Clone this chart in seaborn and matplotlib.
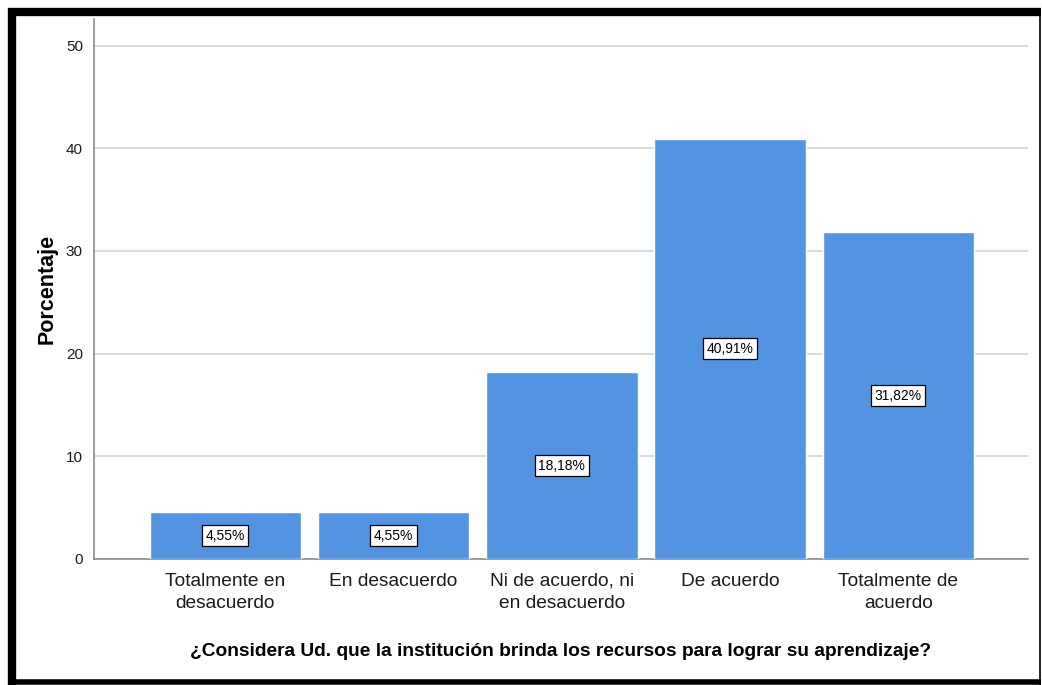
import pandas as pd
import seaborn as sns
import matplotlib.pyplot as plt
from matplotlib.lines import Line2D

categorias = ["Totalmente en\ndesacuerdo", "En desacuerdo", "Ni de acuerdo, ni\nen desacuerdo",
              "De acuerdo", "Totalmente de\nacuerdo"]
porcentajes = [4.55, 4.55, 18.18, 40.91, 31.82]
etiquetas = ["4,55%", "4,55%", "18,18%", "40,91%", "31,82%"]

df = pd.DataFrame({"cat": categorias, "pct": porcentajes})

sns.set_style("white")
plt.rcParams['font.family'] = ['Liberation Sans', 'DejaVu Sans']

fig = plt.figure(figsize=(10.42, 6.85), dpi=100)
ax = fig.add_axes([0.0902, 0.184, 0.8964, 0.7883])

sns.barplot(data=df, x="cat", y="pct", color="#5294e2", saturation=1, width=0.9, ax=ax, zorder=3)

for i, (v, t) in enumerate(zip(porcentajes, etiquetas)):
    ax.text(i, v / 2, t, ha="center", va="center", fontsize=10, zorder=4, color="black",
            bbox=dict(boxstyle="square,pad=0.25", fc="white", ec="black", lw=0.9))

ax.set_ylim(0, 52.6)
ax.set_xlim(-0.78, 4.77)
ax.set_yticks([0, 10, 20, 30, 40, 50])
ax.yaxis.grid(True, color="#d4d4d4", lw=1.2, zorder=0)
ax.set_axisbelow(True)
for s in ["top", "right"]:
    ax.spines[s].set_visible(False)
for s in ["left", "bottom"]:
    ax.spines[s].set_color("#8c8c8c")
    ax.spines[s].set_linewidth(1.2)
ax.tick_params(axis="both", length=0)
ax.tick_params(axis="x", labelsize=13.8, pad=10, colors="#1a1a1a")
ax.tick_params(axis="y", labelsize=11, pad=8, colors="#1a1a1a")
for lbl in ax.get_xticklabels():
    lbl.set_linespacing(1.4)
ax.set_xlabel("¿Considera Ud. que la institución brinda los recursos para lograr su aprendizaje?",
              fontsize=13.8, fontweight="bold", labelpad=22, color="black")
ax.set_ylabel("Porcentaje", fontsize=15.5, fontweight="bold", color="black")
ax.yaxis.set_label_coords(-0.039, 0.5)

# marco exterior
kw = dict(transform=fig.transFigure, color="black", solid_capstyle="butt")
fig.add_artist(Line2D([0.0115, 0.0115], [0.0, 0.988], lw=6, **kw))
fig.add_artist(Line2D([0.0077, 0.999], [0.982, 0.982], lw=6, **kw))
fig.add_artist(Line2D([0.0077, 0.999], [0.004, 0.004], lw=4, **kw))
fig.add_artist(Line2D([0.998, 0.998], [0.0, 0.986], lw=1.2, **kw))

fig.savefig("out.png", dpi=100)
